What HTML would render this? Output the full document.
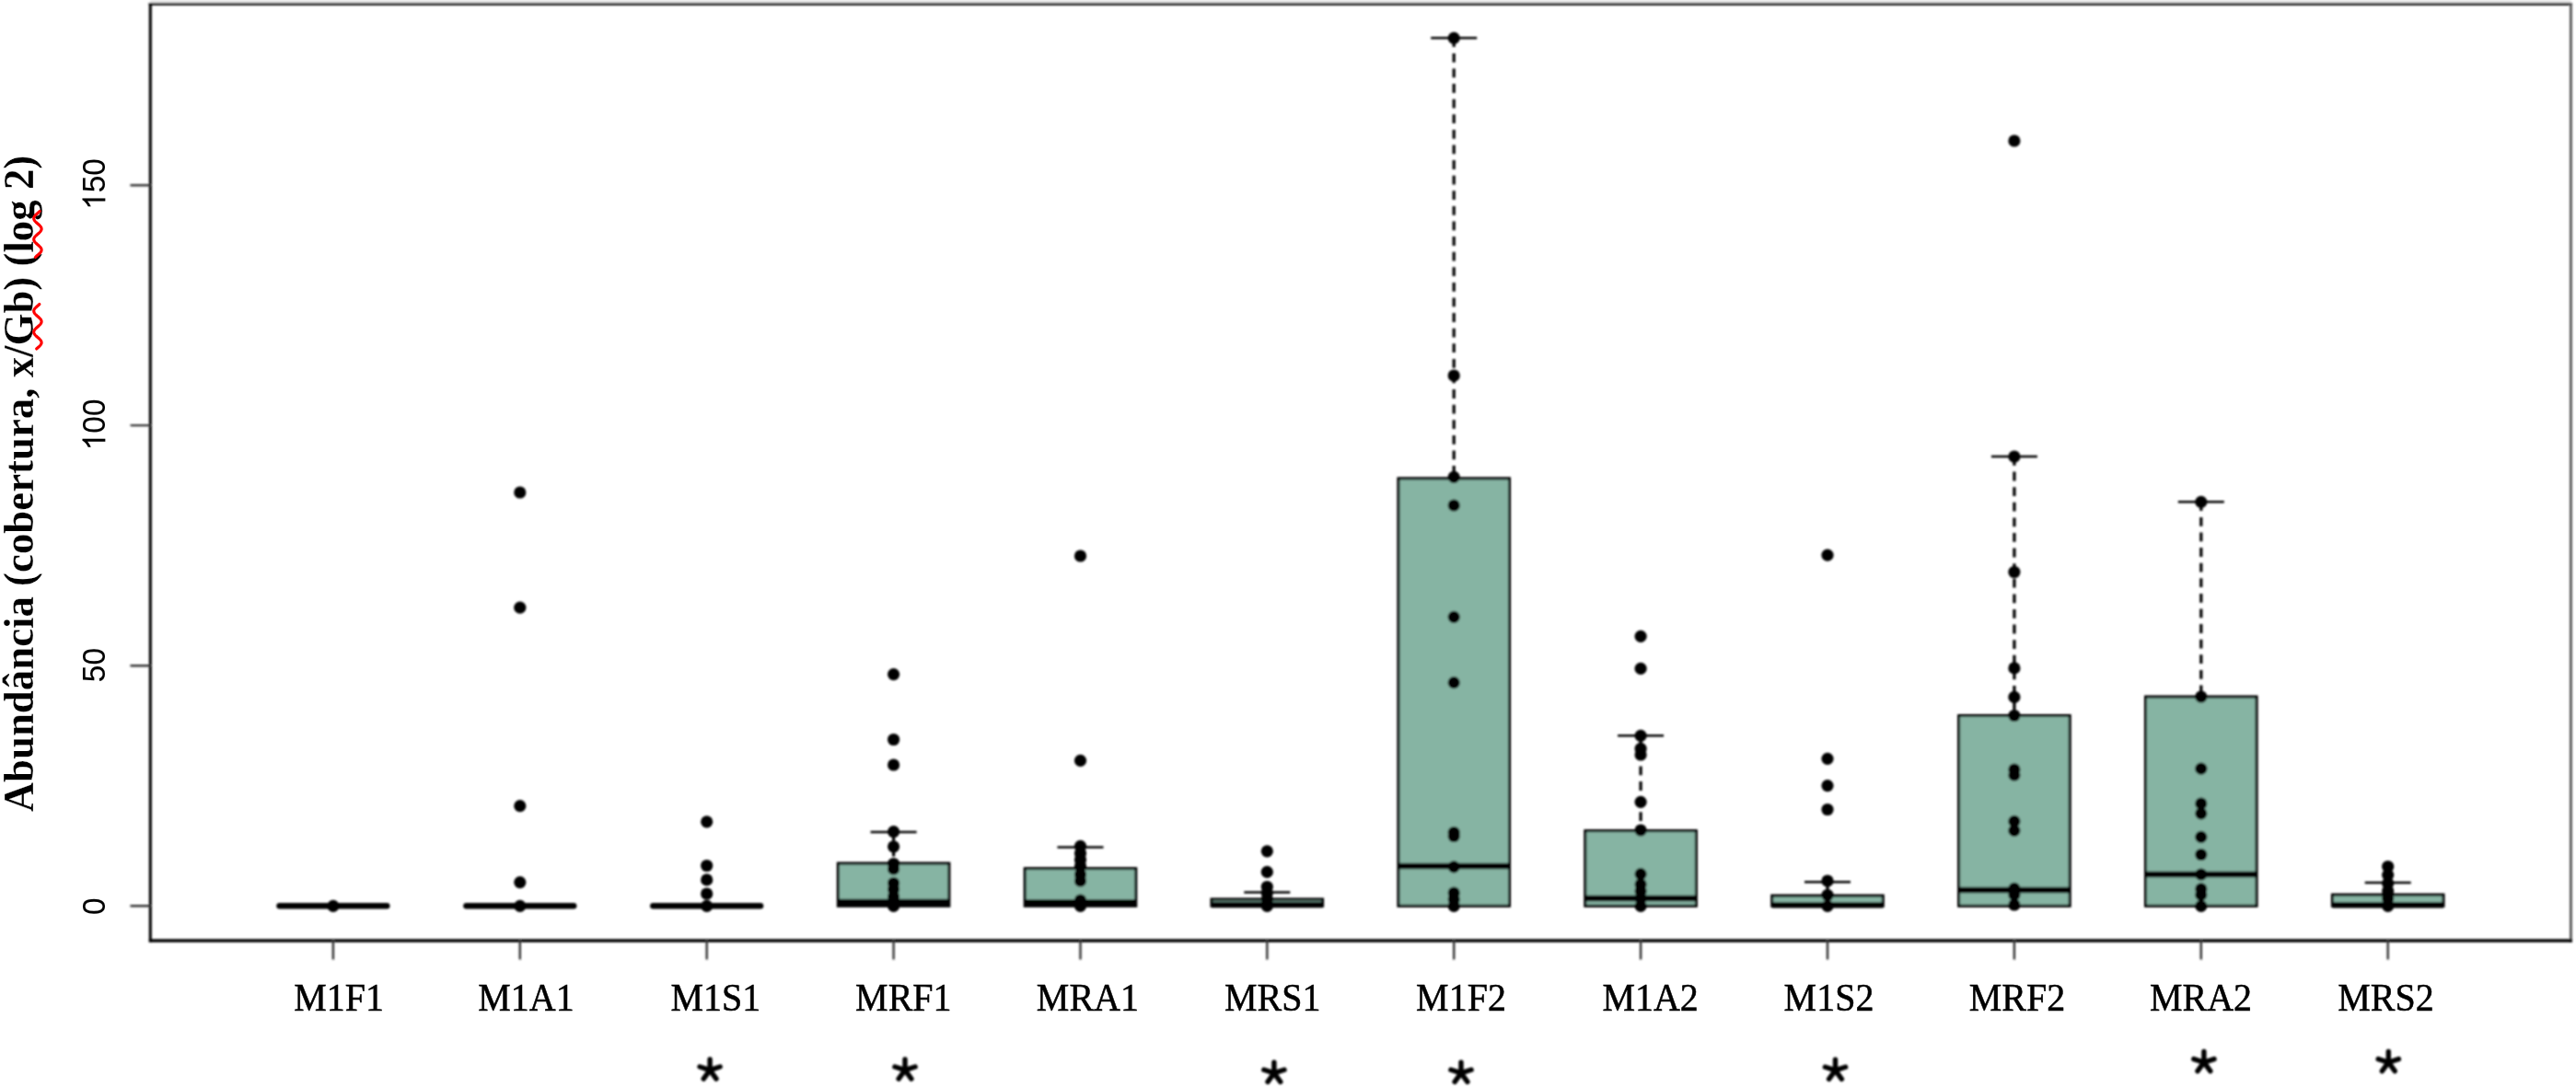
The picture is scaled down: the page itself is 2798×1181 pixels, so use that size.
<!DOCTYPE html>
<html><head><meta charset="utf-8"><style>
html,body{margin:0;padding:0;background:#fff;overflow:hidden;}
svg{display:block;}
</style></head><body>
<svg width="2798" height="1181" viewBox="0 0 2798 1181">
<defs>
<filter id="bs" x="-5%" y="-5%" width="110%" height="110%"><feGaussianBlur stdDeviation="0.9"/></filter>
<filter id="bt" x="-5%" y="-5%" width="110%" height="110%"><feGaussianBlur stdDeviation="0.7"/></filter>
<filter id="bt2" x="-5%" y="-5%" width="110%" height="110%"><feGaussianBlur stdDeviation="0.75"/></filter>
</defs>
<rect x="0" y="0" width="2798" height="1181" fill="#fff"/>
<g filter="url(#bs)">
<rect x="163" y="0" width="2630" height="2.6" fill="#e3e3e3"/>

<line x1="161.8" y1="4.4" x2="2793.8" y2="4.4" stroke="#000" stroke-width="2.9"/>
<line x1="2792.4" y1="3" x2="2792.4" y2="1023.4" stroke="#555" stroke-width="2.8"/>
<line x1="161.8" y1="1022" x2="2793.8" y2="1022" stroke="#000" stroke-width="3.3"/>
<line x1="163.3" y1="3" x2="163.3" y2="1023.4" stroke="#000" stroke-width="3.1"/>
<line x1="142.5" y1="984.3" x2="163.2" y2="984.3" stroke="#333" stroke-width="2.4" stroke-linecap="round"/>
<line x1="142.5" y1="723.2" x2="163.2" y2="723.2" stroke="#333" stroke-width="2.4" stroke-linecap="round"/>
<line x1="142.5" y1="462.1" x2="163.2" y2="462.1" stroke="#333" stroke-width="2.4" stroke-linecap="round"/>
<line x1="142.5" y1="201.2" x2="163.2" y2="201.2" stroke="#333" stroke-width="2.4" stroke-linecap="round"/>
<line x1="361.9" y1="1022" x2="361.9" y2="1041.5" stroke="#333" stroke-width="2.4" stroke-linecap="round"/>
<line x1="564.8" y1="1022" x2="564.8" y2="1041.5" stroke="#333" stroke-width="2.4" stroke-linecap="round"/>
<line x1="767.7" y1="1022" x2="767.7" y2="1041.5" stroke="#333" stroke-width="2.4" stroke-linecap="round"/>
<line x1="970.6" y1="1022" x2="970.6" y2="1041.5" stroke="#333" stroke-width="2.4" stroke-linecap="round"/>
<line x1="1173.5" y1="1022" x2="1173.5" y2="1041.5" stroke="#333" stroke-width="2.4" stroke-linecap="round"/>
<line x1="1376.3" y1="1022" x2="1376.3" y2="1041.5" stroke="#333" stroke-width="2.4" stroke-linecap="round"/>
<line x1="1579.2" y1="1022" x2="1579.2" y2="1041.5" stroke="#333" stroke-width="2.4" stroke-linecap="round"/>
<line x1="1782.1" y1="1022" x2="1782.1" y2="1041.5" stroke="#333" stroke-width="2.4" stroke-linecap="round"/>
<line x1="1985.0" y1="1022" x2="1985.0" y2="1041.5" stroke="#333" stroke-width="2.4" stroke-linecap="round"/>
<line x1="2187.9" y1="1022" x2="2187.9" y2="1041.5" stroke="#333" stroke-width="2.4" stroke-linecap="round"/>
<line x1="2390.8" y1="1022" x2="2390.8" y2="1041.5" stroke="#333" stroke-width="2.4" stroke-linecap="round"/>
<line x1="2593.7" y1="1022" x2="2593.7" y2="1041.5" stroke="#333" stroke-width="2.4" stroke-linecap="round"/>
<line x1="303.6" y1="984.3" x2="420.2" y2="984.3" stroke="#000" stroke-width="6.6" stroke-linecap="round"/>
<circle cx="361.9" cy="984.3" r="6.6" fill="#000"/>
<line x1="506.5" y1="984.3" x2="623.1" y2="984.3" stroke="#000" stroke-width="6.6" stroke-linecap="round"/>
<circle cx="564.8" cy="535" r="6.6" fill="#000"/>
<circle cx="564.8" cy="660.2" r="6.6" fill="#000"/>
<circle cx="564.8" cy="875.7" r="6.6" fill="#000"/>
<circle cx="564.8" cy="958.6" r="6.6" fill="#000"/>
<circle cx="564.8" cy="984.3" r="6.6" fill="#000"/>
<line x1="709.4" y1="984.3" x2="826.0" y2="984.3" stroke="#000" stroke-width="6.6" stroke-linecap="round"/>
<circle cx="767.7" cy="892.8" r="6.6" fill="#000"/>
<circle cx="767.7" cy="940.5" r="6.6" fill="#000"/>
<circle cx="767.7" cy="955.9" r="6.6" fill="#000"/>
<circle cx="767.7" cy="971" r="6.6" fill="#000"/>
<circle cx="767.7" cy="984.3" r="6.6" fill="#000"/>
<line x1="970.6" y1="904.0" x2="970.6" y2="938.0" stroke="#000" stroke-width="3.2" stroke-dasharray="9.8 6.8"/>
<line x1="945.6" y1="904.0" x2="995.6" y2="904.0" stroke="#000" stroke-width="2.5"/>
<rect x="910.3" y="938.0" width="120.6" height="46.3" fill="#86b4a3" stroke="#000" stroke-width="3.0"/>
<line x1="910.3" y1="980.0" x2="1030.9" y2="980.0" stroke="#000" stroke-width="6.4"/>
<circle cx="970.6" cy="732.6" r="6.6" fill="#000"/>
<circle cx="970.6" cy="803.5" r="6.6" fill="#000"/>
<circle cx="970.6" cy="831" r="6.6" fill="#000"/>
<circle cx="970.6" cy="903.7" r="6.6" fill="#000"/>
<circle cx="970.6" cy="919.8" r="6.6" fill="#000"/>
<circle cx="970.6" cy="938.5" r="6.6" fill="#000"/>
<circle cx="970.6" cy="944" r="6.6" fill="#000"/>
<circle cx="970.6" cy="959.5" r="6.6" fill="#000"/>
<circle cx="970.6" cy="966" r="6.6" fill="#000"/>
<circle cx="970.6" cy="974" r="6.6" fill="#000"/>
<circle cx="970.6" cy="984.3" r="6.6" fill="#000"/>
<line x1="1173.5" y1="920.4" x2="1173.5" y2="943.6" stroke="#000" stroke-width="3.2" stroke-dasharray="9.8 6.8"/>
<line x1="1148.5" y1="920.4" x2="1198.5" y2="920.4" stroke="#000" stroke-width="2.5"/>
<rect x="1113.2" y="943.6" width="120.6" height="40.7" fill="#86b4a3" stroke="#000" stroke-width="3.0"/>
<line x1="1113.2" y1="980.5" x2="1233.8" y2="980.5" stroke="#000" stroke-width="6.4"/>
<circle cx="1173.5" cy="604" r="6.6" fill="#000"/>
<circle cx="1173.5" cy="826.4" r="6.6" fill="#000"/>
<circle cx="1173.5" cy="919.3" r="6.6" fill="#000"/>
<circle cx="1173.5" cy="927" r="6.6" fill="#000"/>
<circle cx="1173.5" cy="934" r="6.6" fill="#000"/>
<circle cx="1173.5" cy="941" r="6.6" fill="#000"/>
<circle cx="1173.5" cy="950" r="6.6" fill="#000"/>
<circle cx="1173.5" cy="957" r="6.6" fill="#000"/>
<circle cx="1173.5" cy="978" r="6.6" fill="#000"/>
<circle cx="1173.5" cy="984.3" r="6.6" fill="#000"/>
<line x1="1376.3" y1="969.6" x2="1376.3" y2="977.0" stroke="#000" stroke-width="3.2" stroke-dasharray="9.8 6.8"/>
<line x1="1351.3" y1="969.6" x2="1401.3" y2="969.6" stroke="#000" stroke-width="2.5"/>
<rect x="1316.0" y="977.0" width="120.6" height="7.3" fill="#86b4a3" stroke="#000" stroke-width="3.0"/>
<line x1="1316.0" y1="983.0" x2="1436.6" y2="983.0" stroke="#000" stroke-width="6.4"/>
<circle cx="1376.3" cy="924.8" r="6.6" fill="#000"/>
<circle cx="1376.3" cy="947.4" r="6.6" fill="#000"/>
<circle cx="1376.3" cy="963.5" r="6.6" fill="#000"/>
<circle cx="1376.3" cy="970" r="6.6" fill="#000"/>
<circle cx="1376.3" cy="977" r="6.6" fill="#000"/>
<circle cx="1376.3" cy="984.3" r="6.6" fill="#000"/>
<line x1="1579.2" y1="41.3" x2="1579.2" y2="519.8" stroke="#000" stroke-width="3.2" stroke-dasharray="9.8 6.8"/>
<line x1="1554.2" y1="41.3" x2="1604.2" y2="41.3" stroke="#000" stroke-width="2.5"/>
<rect x="1518.9" y="519.8" width="120.6" height="464.5" fill="#86b4a3" stroke="#000" stroke-width="3.0"/>
<line x1="1518.9" y1="941.0" x2="1639.5" y2="941.0" stroke="#000" stroke-width="6.4"/>
<circle cx="1579.2" cy="41.3" r="6.6" fill="#000"/>
<circle cx="1579.2" cy="408" r="6.6" fill="#000"/>
<circle cx="1579.2" cy="518.4" r="6.6" fill="#000"/>
<circle cx="1579.2" cy="549" r="6.6" fill="#000"/>
<circle cx="1579.2" cy="670.3" r="6.6" fill="#000"/>
<circle cx="1579.2" cy="741.7" r="6.6" fill="#000"/>
<circle cx="1579.2" cy="904.5" r="6.6" fill="#000"/>
<circle cx="1579.2" cy="908.5" r="6.6" fill="#000"/>
<circle cx="1579.2" cy="941.8" r="6.6" fill="#000"/>
<circle cx="1579.2" cy="970" r="6.6" fill="#000"/>
<circle cx="1579.2" cy="977" r="6.6" fill="#000"/>
<circle cx="1579.2" cy="984.3" r="6.6" fill="#000"/>
<line x1="1782.1" y1="799.3" x2="1782.1" y2="902.6" stroke="#000" stroke-width="3.2" stroke-dasharray="9.8 6.8"/>
<line x1="1757.1" y1="799.3" x2="1807.1" y2="799.3" stroke="#000" stroke-width="2.5"/>
<rect x="1721.8" y="902.6" width="120.6" height="81.7" fill="#86b4a3" stroke="#000" stroke-width="3.0"/>
<line x1="1721.8" y1="976.0" x2="1842.4" y2="976.0" stroke="#000" stroke-width="6.4"/>
<circle cx="1782.1" cy="691.3" r="6.6" fill="#000"/>
<circle cx="1782.1" cy="726.4" r="6.6" fill="#000"/>
<circle cx="1782.1" cy="799.3" r="6.6" fill="#000"/>
<circle cx="1782.1" cy="813.4" r="6.6" fill="#000"/>
<circle cx="1782.1" cy="820" r="6.6" fill="#000"/>
<circle cx="1782.1" cy="871.3" r="6.6" fill="#000"/>
<circle cx="1782.1" cy="902" r="6.6" fill="#000"/>
<circle cx="1782.1" cy="949.7" r="6.6" fill="#000"/>
<circle cx="1782.1" cy="960.8" r="6.6" fill="#000"/>
<circle cx="1782.1" cy="968" r="6.6" fill="#000"/>
<circle cx="1782.1" cy="976" r="6.6" fill="#000"/>
<circle cx="1782.1" cy="984.3" r="6.6" fill="#000"/>
<line x1="1985.0" y1="958.3" x2="1985.0" y2="973.1" stroke="#000" stroke-width="3.2" stroke-dasharray="9.8 6.8"/>
<line x1="1960.0" y1="958.3" x2="2010.0" y2="958.3" stroke="#000" stroke-width="2.5"/>
<rect x="1924.7" y="973.1" width="120.6" height="11.2" fill="#86b4a3" stroke="#000" stroke-width="3.0"/>
<line x1="1924.7" y1="983.4" x2="2045.3" y2="983.4" stroke="#000" stroke-width="6.4"/>
<circle cx="1985.0" cy="603.2" r="6.6" fill="#000"/>
<circle cx="1985.0" cy="824.3" r="6.6" fill="#000"/>
<circle cx="1985.0" cy="853.6" r="6.6" fill="#000"/>
<circle cx="1985.0" cy="879.5" r="6.6" fill="#000"/>
<circle cx="1985.0" cy="957" r="6.6" fill="#000"/>
<circle cx="1985.0" cy="972.5" r="6.6" fill="#000"/>
<circle cx="1985.0" cy="984.3" r="6.6" fill="#000"/>
<line x1="2187.9" y1="496.0" x2="2187.9" y2="777.5" stroke="#000" stroke-width="3.2" stroke-dasharray="9.8 6.8"/>
<line x1="2162.9" y1="496.0" x2="2212.9" y2="496.0" stroke="#000" stroke-width="2.5"/>
<rect x="2127.6" y="777.5" width="120.6" height="206.8" fill="#86b4a3" stroke="#000" stroke-width="3.0"/>
<line x1="2127.6" y1="967.0" x2="2248.2" y2="967.0" stroke="#000" stroke-width="6.4"/>
<circle cx="2187.9" cy="153" r="6.6" fill="#000"/>
<circle cx="2187.9" cy="496" r="6.6" fill="#000"/>
<circle cx="2187.9" cy="621.5" r="6.6" fill="#000"/>
<circle cx="2187.9" cy="725.9" r="6.6" fill="#000"/>
<circle cx="2187.9" cy="757.4" r="6.6" fill="#000"/>
<circle cx="2187.9" cy="777.5" r="6.6" fill="#000"/>
<circle cx="2187.9" cy="836" r="6.6" fill="#000"/>
<circle cx="2187.9" cy="842" r="6.6" fill="#000"/>
<circle cx="2187.9" cy="892.4" r="6.6" fill="#000"/>
<circle cx="2187.9" cy="902.4" r="6.6" fill="#000"/>
<circle cx="2187.9" cy="965.3" r="6.6" fill="#000"/>
<circle cx="2187.9" cy="972" r="6.6" fill="#000"/>
<circle cx="2187.9" cy="983" r="6.6" fill="#000"/>
<line x1="2390.8" y1="545.3" x2="2390.8" y2="757.0" stroke="#000" stroke-width="3.2" stroke-dasharray="9.8 6.8"/>
<line x1="2365.8" y1="545.3" x2="2415.8" y2="545.3" stroke="#000" stroke-width="2.5"/>
<rect x="2330.5" y="757.0" width="120.6" height="227.3" fill="#86b4a3" stroke="#000" stroke-width="3.0"/>
<line x1="2330.5" y1="950.0" x2="2451.1" y2="950.0" stroke="#000" stroke-width="6.4"/>
<circle cx="2390.8" cy="545.3" r="6.6" fill="#000"/>
<circle cx="2390.8" cy="757" r="6.6" fill="#000"/>
<circle cx="2390.8" cy="835.2" r="6.6" fill="#000"/>
<circle cx="2390.8" cy="873" r="6.6" fill="#000"/>
<circle cx="2390.8" cy="883.8" r="6.6" fill="#000"/>
<circle cx="2390.8" cy="909.4" r="6.6" fill="#000"/>
<circle cx="2390.8" cy="928.5" r="6.6" fill="#000"/>
<circle cx="2390.8" cy="950" r="6.6" fill="#000"/>
<circle cx="2390.8" cy="965.8" r="6.6" fill="#000"/>
<circle cx="2390.8" cy="972" r="6.6" fill="#000"/>
<circle cx="2390.8" cy="984.3" r="6.6" fill="#000"/>
<line x1="2593.7" y1="958.9" x2="2593.7" y2="972.1" stroke="#000" stroke-width="3.2" stroke-dasharray="9.8 6.8"/>
<line x1="2568.7" y1="958.9" x2="2618.7" y2="958.9" stroke="#000" stroke-width="2.5"/>
<rect x="2533.4" y="972.1" width="120.6" height="12.2" fill="#86b4a3" stroke="#000" stroke-width="3.0"/>
<line x1="2533.4" y1="983.3" x2="2654.0" y2="983.3" stroke="#000" stroke-width="6.4"/>
<circle cx="2593.7" cy="941.5" r="6.6" fill="#000"/>
<circle cx="2593.7" cy="950.6" r="6.6" fill="#000"/>
<circle cx="2593.7" cy="959.7" r="6.6" fill="#000"/>
<circle cx="2593.7" cy="968" r="6.6" fill="#000"/>
<circle cx="2593.7" cy="976" r="6.6" fill="#000"/>
<circle cx="2593.7" cy="984.3" r="6.6" fill="#000"/>
<path d="M771.1 1162.6L771.1 1150.9M771.1 1162.6L782.2 1159.0M771.1 1162.6L778.0 1172.1M771.1 1162.6L764.2 1172.1M771.1 1162.6L760.0 1159.0" stroke="#000" stroke-width="5.4" stroke-linecap="round" fill="none"/>
<path d="M983.0 1162.6L983.0 1150.9M983.0 1162.6L994.1 1159.0M983.0 1162.6L989.9 1172.1M983.0 1162.6L976.1 1172.1M983.0 1162.6L971.9 1159.0" stroke="#000" stroke-width="5.4" stroke-linecap="round" fill="none"/>
<path d="M1383.9 1165.9L1383.9 1154.2M1383.9 1165.9L1395.0 1162.3M1383.9 1165.9L1390.8 1175.4M1383.9 1165.9L1377.0 1175.4M1383.9 1165.9L1372.8 1162.3" stroke="#000" stroke-width="5.4" stroke-linecap="round" fill="none"/>
<path d="M1587.0 1165.9L1587.0 1154.2M1587.0 1165.9L1598.1 1162.3M1587.0 1165.9L1593.9 1175.4M1587.0 1165.9L1580.1 1175.4M1587.0 1165.9L1575.9 1162.3" stroke="#000" stroke-width="5.4" stroke-linecap="round" fill="none"/>
<path d="M1993.5 1162.9L1993.5 1151.2M1993.5 1162.9L2004.6 1159.3M1993.5 1162.9L2000.4 1172.4M1993.5 1162.9L1986.6 1172.4M1993.5 1162.9L1982.4 1159.3" stroke="#000" stroke-width="5.4" stroke-linecap="round" fill="none"/>
<path d="M2393.9 1154.2L2393.9 1142.5M2393.9 1154.2L2405.0 1150.6M2393.9 1154.2L2400.8 1163.7M2393.9 1154.2L2387.0 1163.7M2393.9 1154.2L2382.8 1150.6" stroke="#000" stroke-width="5.4" stroke-linecap="round" fill="none"/>
<path d="M2594.3 1154.2L2594.3 1142.5M2594.3 1154.2L2605.4 1150.6M2594.3 1154.2L2601.2 1163.7M2594.3 1154.2L2587.4 1163.7M2594.3 1154.2L2583.2 1150.6" stroke="#000" stroke-width="5.4" stroke-linecap="round" fill="none"/>
</g>
<g filter="url(#bt)">
<g transform="translate(114.3,984.8) rotate(-90) scale(0.93,1) translate(-10.011,0)">
<text x="0" y="0" font-family="Liberation Sans" font-size="36" fill="#000" stroke="#000" stroke-width="0.1">0</text>
</g>
<g transform="translate(114.3,722.6) rotate(-90) scale(0.93,1) translate(-20.021,0)">
<text x="0" y="0" font-family="Liberation Sans" font-size="36" fill="#000" stroke="#000" stroke-width="0.1">50</text>
</g>
<g transform="translate(114.3,461.4) rotate(-90) scale(0.93,1) translate(-30.032,0)">
<path transform="scale(0.017578,-0.017578)" d="M763 0H583V1100Q518 1040 412 980Q307 920 223 890V1057Q374 1125 487 1223Q600 1320 647 1409H763Z" fill="#000" stroke="#000" stroke-width="6"/>
<text x="20.021" y="0" font-family="Liberation Sans" font-size="36" fill="#000" stroke="#000" stroke-width="0.1">00</text>
</g>
<g transform="translate(114.3,200) rotate(-90) scale(0.93,1) translate(-30.032,0)">
<path transform="scale(0.017578,-0.017578)" d="M763 0H583V1100Q518 1040 412 980Q307 920 223 890V1057Q374 1125 487 1223Q600 1320 647 1409H763Z" fill="#000" stroke="#000" stroke-width="6"/>
<text x="20.021" y="0" font-family="Liberation Sans" font-size="36" fill="#000" stroke="#000" stroke-width="0.1">50</text>
</g>
<text transform="translate(368.2,1097.7) scale(0.93,1)" text-anchor="middle" font-family="Liberation Serif" font-size="43" fill="#000" stroke="#000" stroke-width="0.55">M1F1</text>
<text transform="translate(571.5,1097.7) scale(0.93,1)" text-anchor="middle" font-family="Liberation Serif" font-size="43" fill="#000" stroke="#000" stroke-width="0.55">M1A1</text>
<text transform="translate(777.4,1097.7) scale(0.93,1)" text-anchor="middle" font-family="Liberation Serif" font-size="43" fill="#000" stroke="#000" stroke-width="0.55">M1S1</text>
<text transform="translate(981.3,1097.7) scale(0.93,1)" text-anchor="middle" font-family="Liberation Serif" font-size="43" fill="#000" stroke="#000" stroke-width="0.55">MRF1</text>
<text transform="translate(1181.4,1097.7) scale(0.93,1)" text-anchor="middle" font-family="Liberation Serif" font-size="43" fill="#000" stroke="#000" stroke-width="0.55">MRA1</text>
<text transform="translate(1382.2,1097.7) scale(0.93,1)" text-anchor="middle" font-family="Liberation Serif" font-size="43" fill="#000" stroke="#000" stroke-width="0.55">MRS1</text>
<text transform="translate(1587.0,1097.7) scale(0.93,1)" text-anchor="middle" font-family="Liberation Serif" font-size="43" fill="#000" stroke="#000" stroke-width="0.55">M1F2</text>
<text transform="translate(1792.6,1097.7) scale(0.93,1)" text-anchor="middle" font-family="Liberation Serif" font-size="43" fill="#000" stroke="#000" stroke-width="0.55">M1A2</text>
<text transform="translate(1986.5,1097.7) scale(0.93,1)" text-anchor="middle" font-family="Liberation Serif" font-size="43" fill="#000" stroke="#000" stroke-width="0.55">M1S2</text>
<text transform="translate(2190.9,1097.7) scale(0.93,1)" text-anchor="middle" font-family="Liberation Serif" font-size="43" fill="#000" stroke="#000" stroke-width="0.55">MRF2</text>
<text transform="translate(2390.5,1097.7) scale(0.93,1)" text-anchor="middle" font-family="Liberation Serif" font-size="43" fill="#000" stroke="#000" stroke-width="0.55">MRA2</text>
<text transform="translate(2591.5,1097.7) scale(0.93,1)" text-anchor="middle" font-family="Liberation Serif" font-size="43" fill="#000" stroke="#000" stroke-width="0.55">MRS2</text>
</g><g filter="url(#bt2)">
<text transform="translate(35.6,882.3) rotate(-90) scale(0.975,1)" font-family="Liberation Serif" font-weight="bold" font-size="46" fill="#000" stroke="#fff" stroke-width="0.25">Abundância (cobertura, x/Gb) (log 2)</text>
<polyline points="43.20,229.50 42.69,230.00 42.15,230.50 41.59,231.00 41.02,231.50 40.44,232.00 39.87,232.50 39.32,233.00 38.80,233.50 38.32,234.00 37.89,234.50 37.52,235.00 37.21,235.50 36.97,236.00 36.80,236.50 36.71,237.00 36.71,237.50 36.78,238.00 36.93,238.50 37.15,239.00 37.45,239.50 37.81,240.00 38.23,240.50 38.70,241.00 39.21,241.50 39.76,242.00 40.32,242.50 40.90,243.00 41.48,243.50 42.04,244.00 42.59,244.50 43.10,245.00 43.57,245.50 43.99,246.00 44.35,246.50 44.65,247.00 44.87,247.50 45.02,248.00 45.09,248.50 45.09,249.00 45.00,249.50 44.83,250.00 44.59,250.50 44.28,251.00 43.91,251.50 43.48,252.00 43.00,252.50 42.48,253.00 41.93,253.50 41.36,254.00 40.78,254.50 40.21,255.00 39.65,255.50 39.11,256.00 38.60,256.50 38.14,257.00 37.73,257.50 37.38,258.00 37.10,258.50 36.89,259.00 36.76,259.50 36.70,260.00 36.73,260.50 36.83,261.00 37.01,261.50 37.26,262.00 37.59,262.50 37.97,263.00 38.41,263.50 38.90,264.00 39.43,264.50 39.98,265.00 40.55,265.50 41.13,266.00 41.71,266.50 42.26,267.00 42.80,267.50 43.29,268.00 43.74,268.50 44.14,269.00 44.48,269.50 44.75,270.00 44.94,270.50 45.06,271.00 45.10,271.50 45.06,272.00 44.94,272.50 44.75,273.00 44.48,273.50 44.14,274.00 43.74,274.50 43.29,275.00 42.80,275.50 42.26,276.00 41.71,276.50 41.13,277.00 40.55,277.50 39.98,278.00 39.43,278.50 38.90,279.00 38.41,279.50" fill="none" stroke="#f00" stroke-width="3.1" stroke-linecap="round"/>
<polyline points="42.90,330.50 42.37,331.00 41.82,331.50 41.25,332.00 40.67,332.50 40.09,333.00 39.54,333.50 39.00,334.00 38.51,334.50 38.06,335.00 37.66,335.50 37.32,336.00 37.05,336.50 36.86,337.00 36.74,337.50 36.70,338.00 36.74,338.50 36.86,339.00 37.05,339.50 37.32,340.00 37.66,340.50 38.06,341.00 38.51,341.50 39.00,342.00 39.54,342.50 40.09,343.00 40.67,343.50 41.25,344.00 41.82,344.50 42.37,345.00 42.90,345.50 43.39,346.00 43.83,346.50 44.21,347.00 44.54,347.50 44.79,348.00 44.97,348.50 45.07,349.00 45.10,349.50 45.04,350.00 44.91,350.50 44.70,351.00 44.42,351.50 44.07,352.00 43.66,352.50 43.20,353.00 42.69,353.50 42.15,354.00 41.59,354.50 41.02,355.00 40.44,355.50 39.87,356.00 39.32,356.50 38.80,357.00 38.32,357.50 37.89,358.00 37.52,358.50 37.21,359.00 36.97,359.50 36.80,360.00 36.71,360.50 36.71,361.00 36.78,361.50 36.93,362.00 37.15,362.50 37.45,363.00 37.81,363.50 38.23,364.00 38.70,364.50 39.21,365.00 39.76,365.50 40.32,366.00 40.90,366.50 41.48,367.00 42.04,367.50 42.59,368.00 43.10,368.50 43.57,369.00 43.99,369.50 44.35,370.00 44.65,370.50 44.87,371.00 45.02,371.50 45.09,372.00 45.09,372.50 45.00,373.00 44.83,373.50 44.59,374.00 44.28,374.50 43.91,375.00 43.48,375.50 43.00,376.00 42.48,376.50 41.93,377.00 41.36,377.50 40.78,378.00 40.21,378.50 39.65,379.00" fill="none" stroke="#f00" stroke-width="3.1" stroke-linecap="round"/>
</g>
</svg></body></html>
